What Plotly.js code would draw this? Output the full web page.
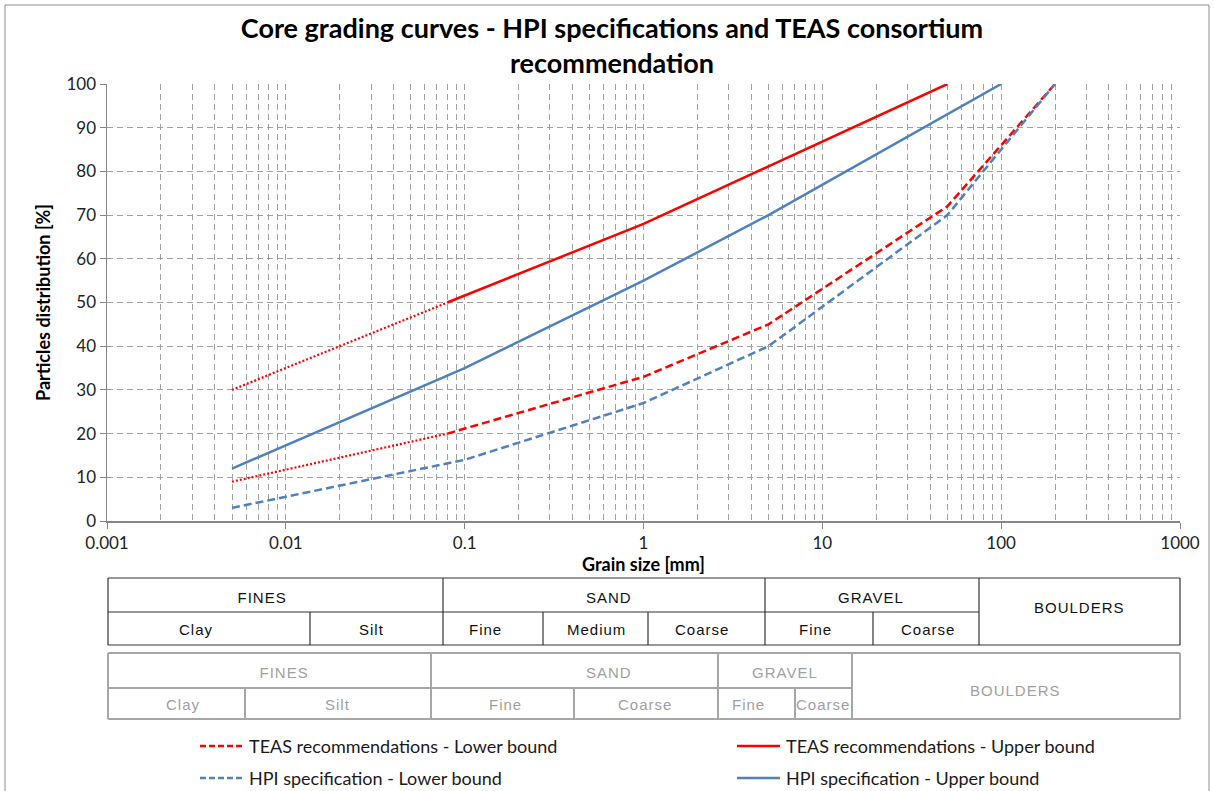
<!DOCTYPE html>
<html>
<head>
<meta charset="utf-8">
<script src="https://cdn.plot.ly/plotly-3.0.1.min.js"></script>
<style>body{margin:0;background:#fff;}</style>
</head>
<body>
<div id="chart" style="width:1214px;height:791px;"></div>
<script>
// ---------- DATA ----------
const teasLowerX = [0.08, 1, 5, 50, 200];
const teasLowerY = [20, 33, 45, 72, 100];
const teasLowerExtX = [0.005, 0.08];
const teasLowerExtY = [9, 20];

const teasUpperX = [0.08, 1, 50];
const teasUpperY = [50, 68, 100];
const teasUpperExtX = [0.005, 0.08];
const teasUpperExtY = [30, 50];

const hpiLowerX = [0.005, 0.1, 1, 5, 50, 200];
const hpiLowerY = [3, 14, 27, 40, 70, 100];

const hpiUpperX = [0.005, 0.1, 1, 5, 100];
const hpiUpperY = [12, 35, 55, 70, 100];

const xTickVals = [0.001, 0.01, 0.1, 1, 10, 100, 1000];
const xTickText = ['0.001', '0.01', '0.1', '1', '10', '100', '1000'];
const seriesNames = [
  'TEAS recommendations - Lower bound',
  'TEAS recommendations - Upper bound',
  'HPI specification - Lower bound',
  'HPI specification - Upper bound'
];

// table 1 (black) labels
const t1Top = ['FINES', 'SAND', 'GRAVEL'];
const t1Bottom = ['Clay', 'Silt', 'Fine', 'Medium', 'Coarse', 'Fine', 'Coarse'];
const t1Boulders = 'BOULDERS';
// table 2 (grey) labels
const t2Top = ['FINES', 'SAND', 'GRAVEL'];
const t2Bottom = ['Clay', 'Silt', 'Fine', 'Coarse', 'Fine', 'Coarse'];
const t2Boulders = 'BOULDERS';

// ---------- LAYOUT HELPERS (pixel -> paper) ----------
const W = 1214, H = 791;
const L = 107, R = 1180, T = 84, B = 521;
const px = v => (v - L) / (R - L);
const py = v => (B - v) / (B - T);

const RED = '#ff0000', BLUE = '#4f81bd';
const minorVals = [];
for (let e = -3; e < 3; e++) for (let m = 2; m <= 9; m++) minorVals.push(m * Math.pow(10, e));

const traces = [
  {x: teasLowerExtX, y: teasLowerExtY, mode: 'lines', line: {color: RED, width: 2.2, dash: '2px,2px'}, showlegend: false, hoverinfo: 'skip'},
  {x: teasLowerX, y: teasLowerY, mode: 'lines', name: seriesNames[0], line: {color: RED, width: 2.5, dash: '8px,4px'}},
  {x: teasUpperExtX, y: teasUpperExtY, mode: 'lines', line: {color: RED, width: 2.2, dash: '2px,2px'}, showlegend: false, hoverinfo: 'skip'},
  {x: teasUpperX, y: teasUpperY, mode: 'lines', name: seriesNames[1], line: {color: RED, width: 2.5}},
  {x: hpiLowerX, y: hpiLowerY, mode: 'lines', name: seriesNames[2], line: {color: BLUE, width: 2.5, dash: '8px,4px'}},
  {x: hpiUpperX, y: hpiUpperY, mode: 'lines', name: seriesNames[3], line: {color: BLUE, width: 2.5}}
];

const shapes = [];
const annotations = [];
const tableTexts = new Set();
function hline(x0, x1, y, color, w) {
  shapes.push({type: 'line', xref: 'paper', yref: 'paper', x0: px(x0), x1: px(x1), y0: py(y), y1: py(y), line: {color: color, width: w}});
}
function vline(x, y0, y1, color, w) {
  shapes.push({type: 'line', xref: 'paper', yref: 'paper', x0: px(x), x1: px(x), y0: py(y0), y1: py(y1), line: {color: color, width: w}});
}
function label(text, x, y, color) {
  tableTexts.add(text);
  annotations.push({text: text, xref: 'paper', yref: 'paper', x: px(x), y: py(y), xanchor: 'center', yanchor: 'middle', showarrow: false, font: {family: 'Liberation Sans, Arial, sans-serif', size: 15, color: color}});
}

// ---- Table 1 ----
const c1 = '#333333';
hline(108, 1180, 578, c1, 1.2);
hline(108, 979, 612, c1, 1.2);
hline(108, 1180, 645, c1, 1.2);
[108, 443, 765, 979, 1180].forEach(x => vline(x, 578, 645, c1, 1.2));
[310, 543, 648, 873].forEach(x => vline(x, 612, 645, c1, 1.2));
const t1TopX = [262, 609, 871];
t1Top.forEach((t, i) => label(t, t1TopX[i], 597, '#111'));
const t1BotX = [196, 372, 485, 596, 702, 815, 928];
t1Bottom.forEach((t, i) => label(t, t1BotX[i], 629, '#111'));
label(t1Boulders, 1079, 607, '#111');

// ---- Table 2 ----
const c2 = '#a6a6a6';
hline(108, 1180, 653, c2, 2);
hline(108, 852, 688, c2, 2);
hline(108, 1180, 719, c2, 2);
[108, 431, 718, 852, 1180].forEach(x => vline(x, 653, 719, c2, 2));
[245, 574, 795].forEach(x => vline(x, 688, 719, c2, 2));
const t2TopX = [284, 609, 785];
t2Top.forEach((t, i) => label(t, t2TopX[i], 672, '#a0a0a0'));
const t2BotX = [183, 338, 505, 645, 748, 823];
t2Bottom.forEach((t, i) => label(t, t2BotX[i], 704, '#a0a0a0'));
label(t2Boulders, 1015, 690, '#a0a0a0');

// ---- Legend (manual) ----
const legPos = [[200, 746], [737, 746], [200, 778], [737, 778]];
const legStyle = [
  {color: RED, dash: '6px,3px'}, {color: RED, dash: 'solid'},
  {color: BLUE, dash: '6px,3px'}, {color: BLUE, dash: 'solid'}
];
seriesNames.forEach((n, i) => {
  const [lx, ly] = legPos[i];
  shapes.push({type: 'line', xref: 'paper', yref: 'paper', x0: px(lx), x1: px(lx + 43), y0: py(ly), y1: py(ly), line: {color: legStyle[i].color, width: 2.5, dash: legStyle[i].dash}});
  annotations.push({text: n, xref: 'paper', yref: 'paper', x: px(lx + 47), y: py(ly), xanchor: 'left', yanchor: 'middle', showarrow: false, font: {family: 'Lato, sans-serif', size: 18, color: '#1a1a1a'}});
});

// outer border
shapes.push({type: 'rect', xref: 'paper', yref: 'paper', x0: px(5), x1: px(1209), y0: py(5), y1: py(795), line: {color: '#8c8c8c', width: 1}, fillcolor: 'rgba(0,0,0,0)'});

const gridC = '#a0a0a0';
const layout = {
  width: W, height: H,
  margin: {l: L, r: W - R, t: T, b: H - B, pad: 0},
  paper_bgcolor: '#fff', plot_bgcolor: '#fff',
  showlegend: false,
  title: {
    text: 'Core grading curves - HPI specifications and TEAS consortium<br>recommendation',
    font: {family: 'Lato, sans-serif', size: 27, color: '#000', weight: 'bold'},
    x: 612 / W, xanchor: 'center', xref: 'container',
    y: 1, yanchor: 'bottom', yref: 'paper',
    pad: {b: 46}
  },
  xaxis: {
    type: 'log', range: [-3, 3],
    tickmode: 'array', tickvals: xTickVals, ticktext: xTickText,
    showgrid: true, gridcolor: gridC, gridwidth: 1, griddash: '6px,4px',
    minor: {tickmode: 'array', tickvals: minorVals, showgrid: true, gridcolor: gridC, gridwidth: 1, griddash: '6px,4px', ticks: ''},
    showline: true, linecolor: '#868686', linewidth: 1.5,
    ticks: 'outside', ticklen: 6, tickcolor: '#868686',
    tickfont: {family: 'Lato, sans-serif', size: 17, color: '#222'},
    zeroline: false,
    title: {text: 'Grain size [mm]', font: {family: 'Lato, sans-serif', size: 18, color: '#000', weight: 'bold'}, standoff: 0}
  },
  yaxis: {
    range: [0, 100], dtick: 10, tick0: 0,
    showgrid: true, gridcolor: gridC, gridwidth: 1, griddash: '6px,4px',
    showline: true, linecolor: '#868686', linewidth: 1.5,
    ticks: 'outside', ticklen: 6, tickcolor: '#868686',
    tickfont: {family: 'Lato, sans-serif', size: 17, color: '#222'},
    zeroline: false,
    title: {text: 'Particles distribution [%]', font: {family: 'Lato, sans-serif', size: 18, color: '#000', weight: 'bold'}, standoff: 11}
  },
  shapes: shapes,
  annotations: annotations
};

Plotly.newPlot('chart', traces, layout, {displayModeBar: false, staticPlot: true}).then(gd => {
  gd.querySelectorAll('.annotation-text').forEach(el => {
    if (tableTexts.has(el.textContent)) el.style.letterSpacing = '1px';
  });
});
</script>
</body>
</html>
